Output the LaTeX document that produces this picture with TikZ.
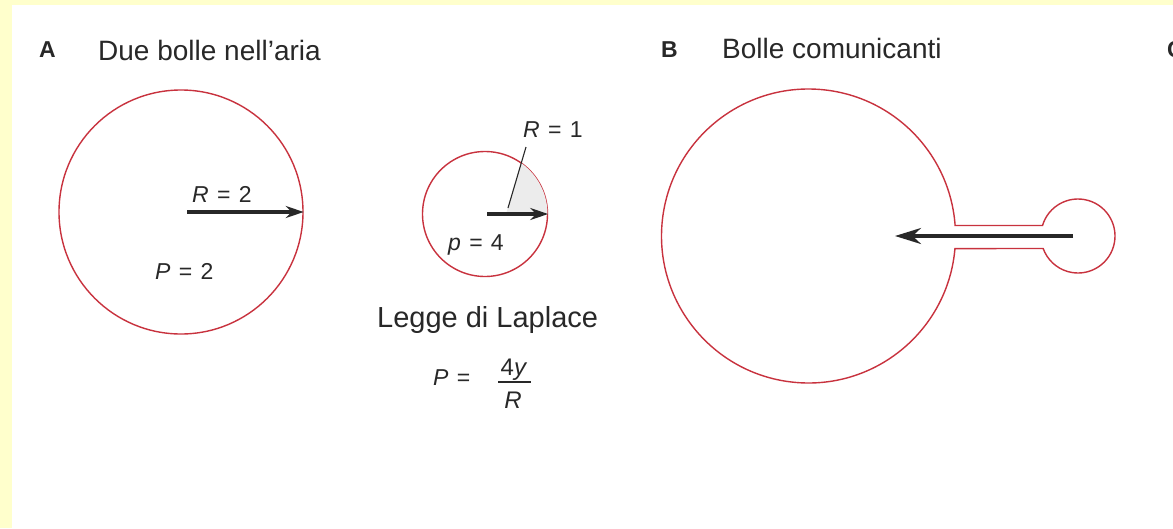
\documentclass[tikz,border=0pt]{standalone}
\usepackage{fontspec}
\setmainfont{Liberation Sans}
\usetikzlibrary{arrows.meta,calc}

\definecolor{bubblered}{RGB}{200,50,62}
\definecolor{pageyellow}{RGB}{255,255,204}
\definecolor{inkgray}{RGB}{40,40,40}

\tikzset{
  bubble/.style={circle, draw=bubblered, line width=1.4pt, inner sep=0pt},
  radius arrow/.style={->, >={Stealth[length=18pt,width=12pt]}, line width=3.2pt, draw=inkgray},
  panel/.style={anchor=base west, inner sep=0pt, font=\fontsize{23}{27}\selectfont\bfseries, text=inkgray},
  title/.style={anchor=base west, inner sep=0pt, font=\fontsize{28}{33}\selectfont, text=inkgray},
  value/.style={anchor=base west, inner sep=0pt, font=\fontsize{23}{27}\selectfont, text=inkgray},
}
\newcommand{\eqgap}{\hspace{0.36em}=\hspace{0.36em}}

\begin{document}
\begin{tikzpicture}[x=1pt, y=-1pt]
  % Frame
  \fill[pageyellow] (0,0) rectangle (1173,528);
  \fill[white] (12,5) rectangle (1173,528);
  \useasboundingbox (0,0) rectangle (1173,528);

  % Headers
  \node[panel] (panelA) at (39,57) {A};
  \node[title] (titleA) at (98,60) {Due bolle nell’aria};
  \node[panel] (panelB) at (661,57) {B};
  \node[title] (titleB) at (722,58) {Bolle comunicanti};
  \node[panel] (panelC) at (1167,57) {C};

  % Big bubble in the air
  \node[bubble, minimum size=244pt] (bigA) at (181,212) {};
  \coordinate (tailA) at (187,212);
  \draw[radius arrow] (tailA) -- (bigA.east);
  \node[value] (Rbig) at (192,202) {\textit{R}\eqgap 2};
  \node[value] (Pbig) at (155,279) {\textit{P}\eqgap 2};

  % Small bubble in the air
  \node[bubble, minimum size=125pt] (smallA) at (485,214) {};
  \fill[gray!15] ($(smallA.center)+(-54.7:62.5)$) arc[start angle=-54.7, end angle=0, radius=62.5] -- (506,214) -- cycle;
  \coordinate (taila) at (487,214);
  \draw[radius arrow] (taila) -- (smallA.east);
  \node[value] (Rsmall) at (523,137) {\textit{R}\eqgap 1};
  \coordinate (leaderfoot) at (508,208);
  \coordinate (leadertop) at (526,147);
  \draw[line width=1.1pt, inkgray] (leaderfoot) -- (leadertop);
  \node[value] (psmall) at (448,250) {\textit{p}\eqgap 4};

  % Laplace law
  \node[title, font=\fontsize{29}{34}\selectfont] (laplace) at (377,327) {Legge di Laplace};
  \node[value] (lawP) at (433,385) {\textit{P}\eqgap};
  \node[value, anchor=base, font=\fontsize{24}{28}\selectfont] (lawnum) at (514,375) {4\textit{y}};
  \node[value, anchor=base, font=\fontsize{24}{28}\selectfont] (lawden) at (513,408) {\textit{R}};
  \draw[line width=1.5pt, inkgray] (498,382) -- (531,382);

  % Communicating bubbles
  \coordinate (bigB) at (808.5,236);
  \coordinate (smallB) at (1078,236);
  \draw[draw=bubblered, line width=1.4pt]
    ($(bigB)+(4.9:147)$) arc[start angle=4.9, end angle=355.9, radius=147]
    -- ($(smallB)+(196.5:37)$) arc[start angle=196.5, end angle=520.2, radius=37]
    -- cycle;
  \coordinate (tailB) at (1073,236);
  \coordinate (headB) at (895,236);
  \draw[radius arrow, >={Stealth[length=26pt,width=16pt]}] (tailB) -- (headB);
\end{tikzpicture}
\end{document}
